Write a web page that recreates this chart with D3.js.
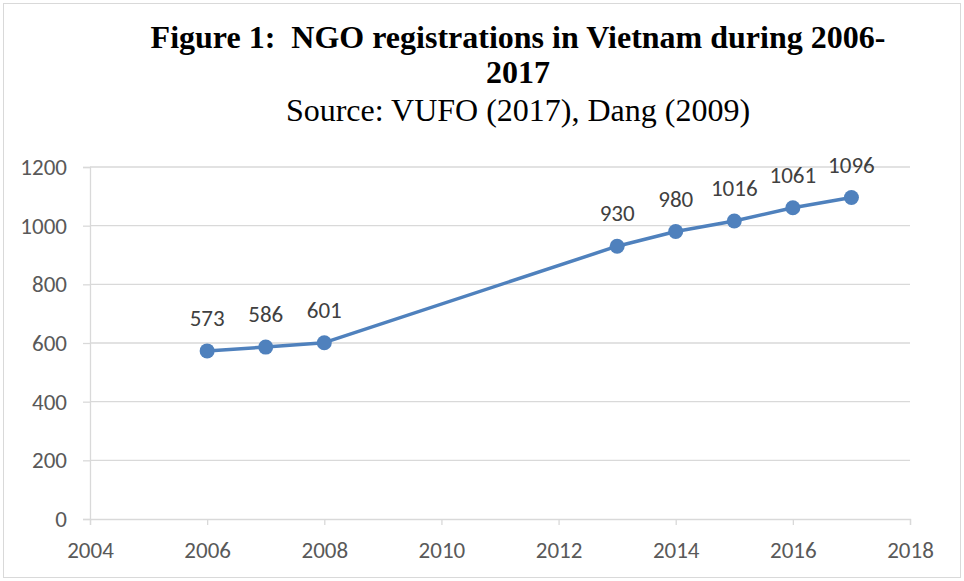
<!DOCTYPE html>
<html>
<head>
<meta charset="utf-8">
<script src="https://cdn.jsdelivr.net/npm/d3@7"></script>
<style>
  body { margin: 0; background: #fff; }
  svg { display: block; }
</style>
</head>
<body>
<div id="chart"></div>
<script>
var years = [2006, 2007, 2008, 2013, 2014, 2015, 2016, 2017];
var registrations = [573, 586, 601, 930, 980, 1016, 1061, 1096];
var xTicks = [2004, 2006, 2008, 2010, 2012, 2014, 2016, 2018];
var yTicks = [0, 200, 400, 600, 800, 1000, 1200];

var W = 964, H = 581;
var margin = { top: 167, right: 54, bottom: 62, left: 90 };
var width = W - margin.left - margin.right;
var height = H - margin.top - margin.bottom;

var root = d3.select("#chart").append("svg")
    .attr("width", W)
    .attr("height", H);

// outer frame
root.append("rect")
    .attr("x", 3.5).attr("y", 3.5)
    .attr("width", W - 7).attr("height", H - 7)
    .attr("fill", "none")
    .attr("stroke", "#d9d9d9")
    .attr("stroke-width", 1);

// title
var title = root.append("text")
    .attr("text-anchor", "middle")
    .style("font-family", "'Liberation Serif', 'Times New Roman', serif")
    .style("white-space", "pre")
    .style("fill", "#000");
title.append("tspan").attr("x", 518).attr("y", 48)
    .style("font-weight", "bold").style("font-size", "32px")
    .text("Figure 1:\u00a0 NGO registrations in Vietnam during 2006-");
title.append("tspan").attr("x", 518).attr("y", 83)
    .style("font-weight", "bold").style("font-size", "32px")
    .text("2017");
title.append("tspan").attr("x", 518).attr("y", 121)
    .style("font-size", "32px")
    .text("Source: VUFO (2017), Dang (2009)");

var svg = root.append("g")
    .attr("transform", `translate(${margin.left}, ${margin.top})`);

var x = d3.scaleLinear()
    .domain([2004, 2018])
    .range([0, width]);

var y = d3.scaleLinear()
    .domain([0, 1200])
    .range([height, 0]);

// gridlines
svg.append("g")
    .selectAll("line")
    .data(yTicks.slice(1))
    .enter()
    .append("line")
    .attr("x1", 0).attr("x2", width)
    .attr("y1", d => y(d)).attr("y2", d => y(d))
    .attr("stroke", "#d9d9d9")
    .attr("stroke-width", 1.3);

var tickFont = "Carlito, Calibri, 'Open Sans', sans-serif";

// Y axis
var yAxis = svg.append("g")
    .call(d3.axisLeft(y).tickValues(yTicks).tickFormat(d3.format("d")).tickSize(7).tickPadding(16));
yAxis.select(".domain").attr("stroke", "#d9d9d9").attr("stroke-width", 1.3);
yAxis.selectAll(".tick line").attr("stroke", "#d9d9d9").attr("stroke-width", 1.3);
yAxis.selectAll("text")
    .style("font-family", tickFont)
    .style("font-size", "23px")
    .attr("fill", "#595959");

// X axis
var xAxis = svg.append("g")
    .attr("transform", `translate(0, ${height})`)
    .call(d3.axisBottom(x).tickValues(xTicks).tickFormat(d3.format("d")).tickSize(6).tickPadding(17));
xAxis.select(".domain").attr("stroke", "#d9d9d9").attr("stroke-width", 1.3);
xAxis.selectAll(".tick line").attr("stroke", "#d9d9d9").attr("stroke-width", 1.3);
xAxis.selectAll("text")
    .style("font-family", tickFont)
    .style("font-size", "23px")
    .attr("fill", "#595959");

var data = years.map((d, i) => ({ year: d, value: registrations[i] }));

// line
svg.append("path")
    .datum(data)
    .attr("fill", "none")
    .attr("stroke", "#4f81bd")
    .attr("stroke-width", 3.5)
    .attr("stroke-linejoin", "round")
    .attr("d", d3.line().x(d => x(d.year)).y(d => y(d.value)));

// markers
svg.append("g")
    .selectAll("circle")
    .data(data)
    .enter()
    .append("circle")
    .attr("cx", d => x(d.year))
    .attr("cy", d => y(d.value))
    .attr("r", 7.5)
    .style("fill", "#4f81bd");

// data labels
svg.append("g")
    .selectAll("text")
    .data(data)
    .enter()
    .append("text")
    .attr("x", d => x(d.year))
    .attr("y", d => y(d.value) - 25)
    .attr("text-anchor", "middle")
    .style("font-family", tickFont)
    .style("font-size", "23px")
    .attr("fill", "#404040")
    .text(d => d.value);
</script>
</body>
</html>
